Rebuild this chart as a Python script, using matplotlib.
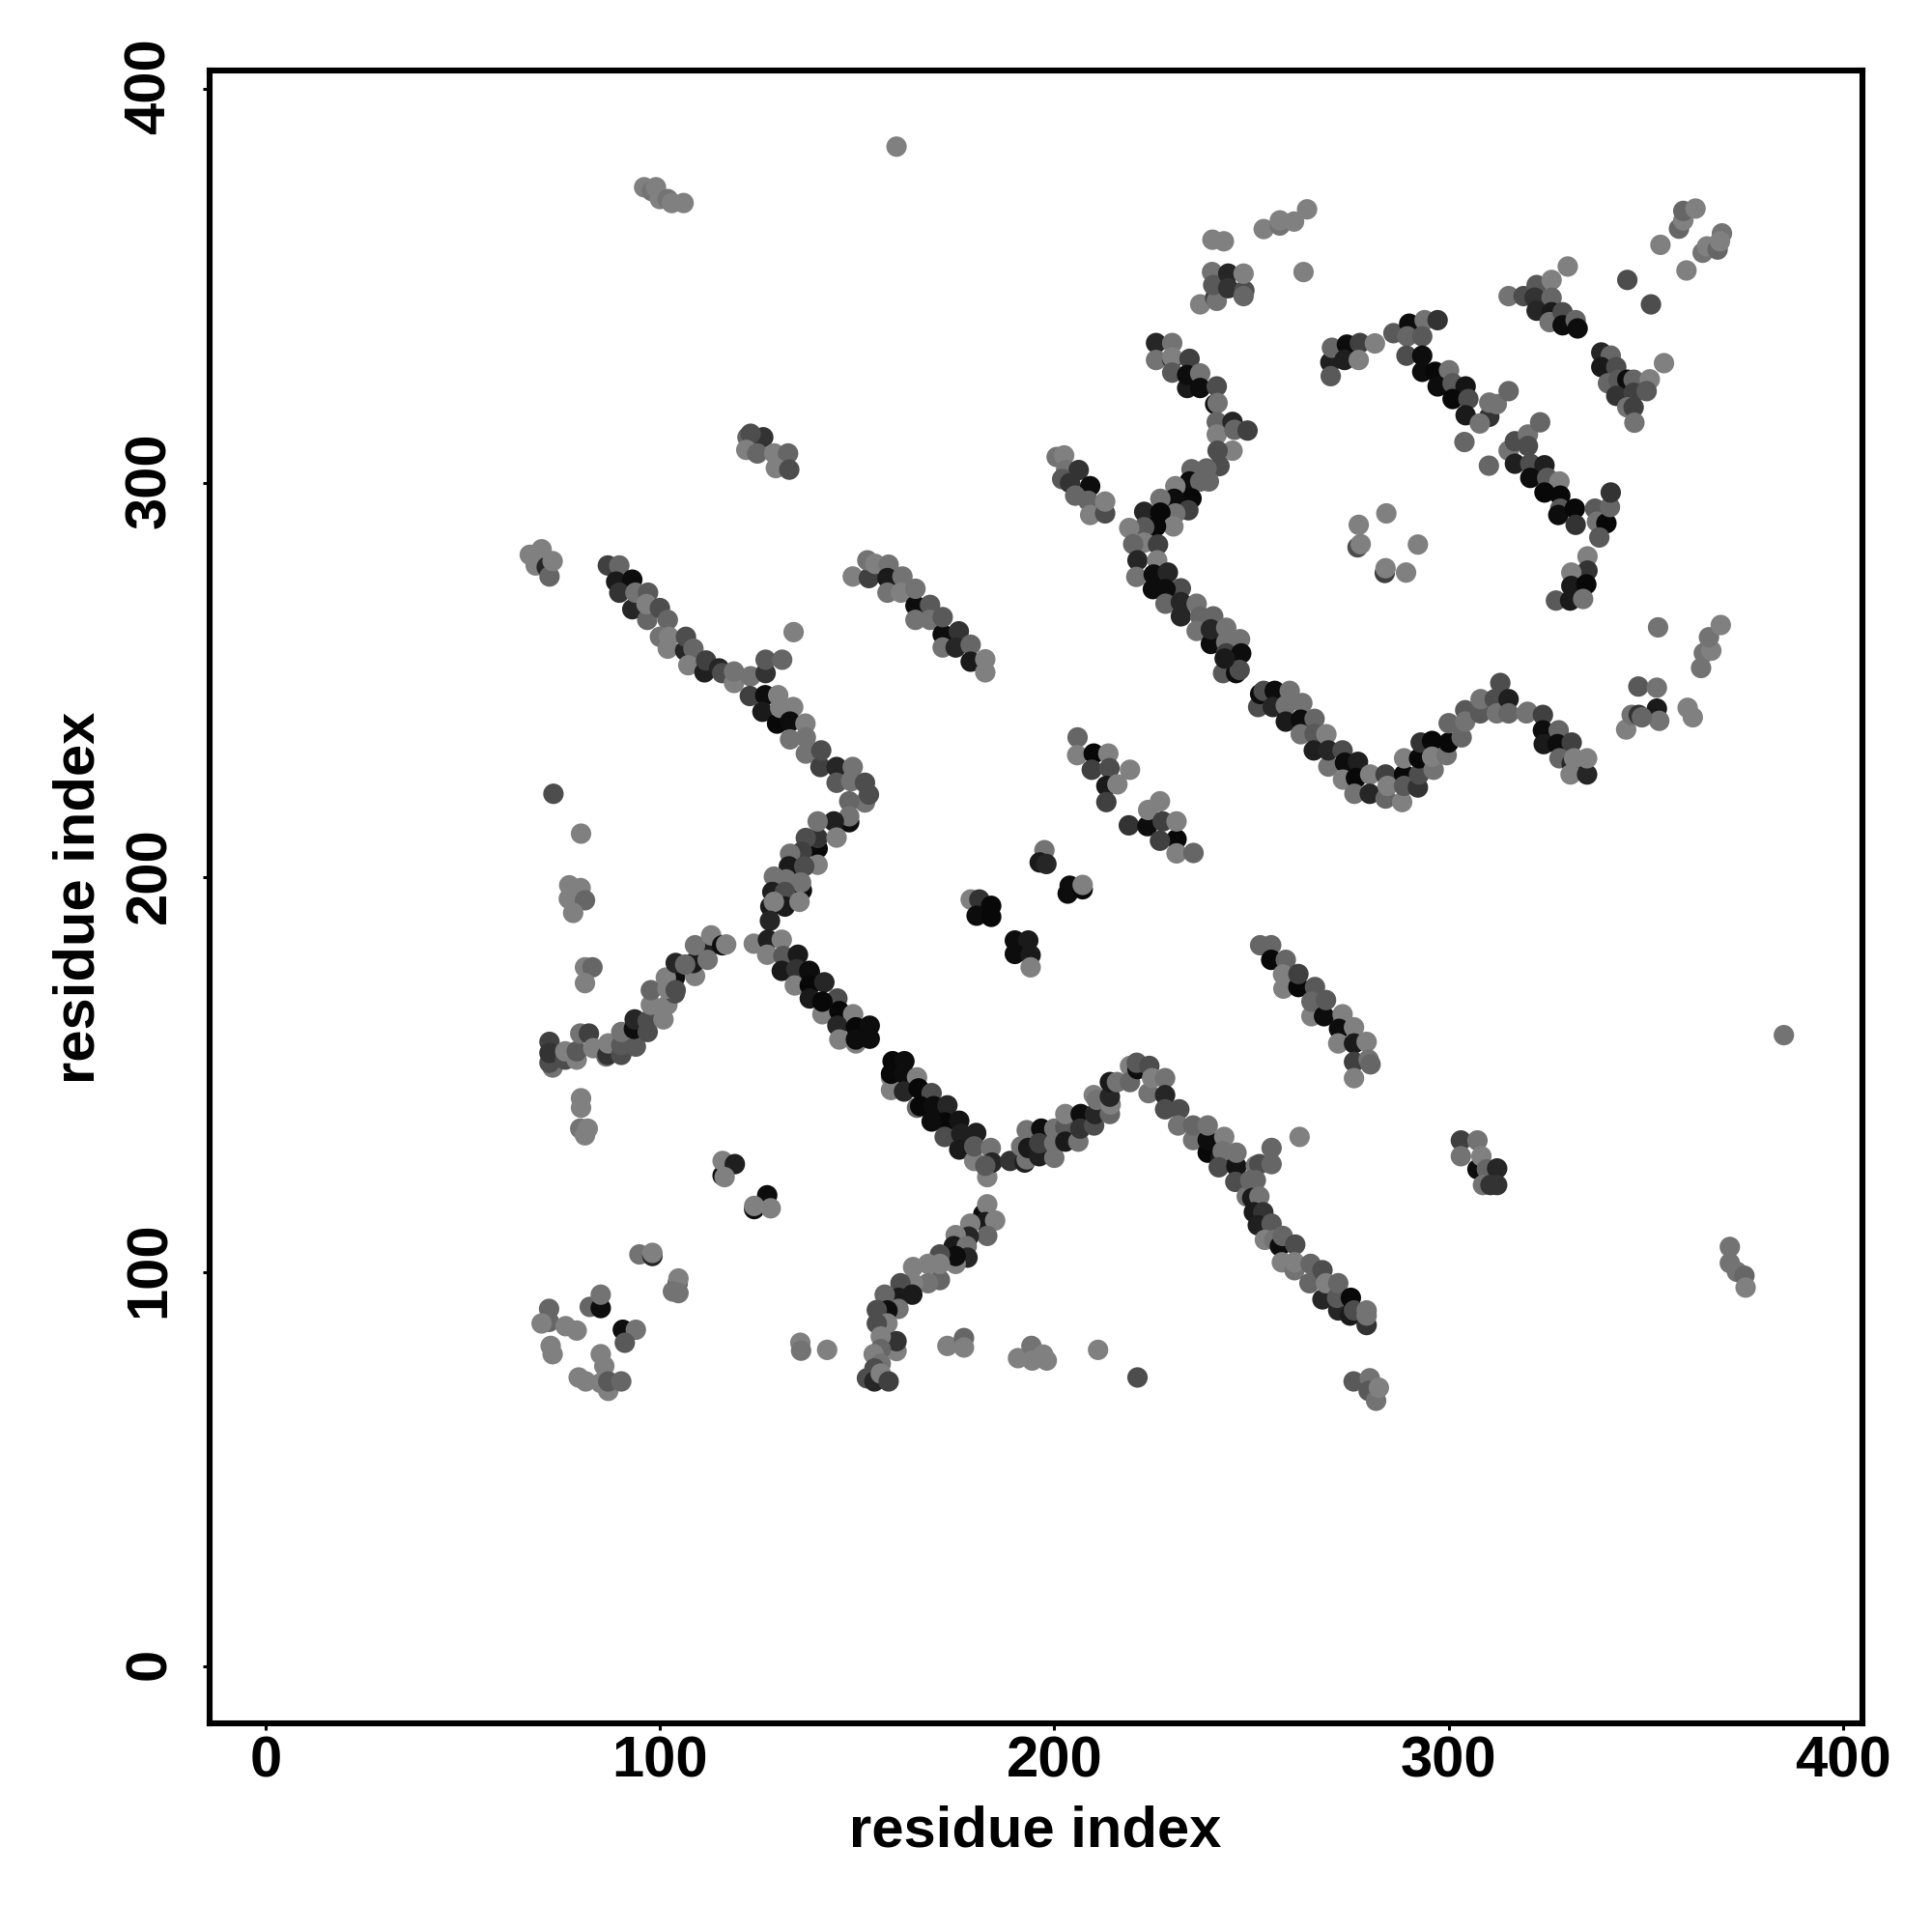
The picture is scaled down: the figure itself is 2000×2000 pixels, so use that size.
import matplotlib
matplotlib.use("Agg")
import matplotlib.pyplot as plt
from matplotlib.transforms import ScaledTranslation

# (residue i, residue j, shade), grouped by feature
isolated = [(160,385.3,.5),(385,160,.45),(133.9,262.2,.5),(73,221.2,.3),(80,211.1,.5),(262.2,134.2,.5),(221.1,73.2,.3),(211.1,80.2,.5),
 (345.3,351.5,.3),(351.3,345.3,.3),(263.2,353.5,.5),(304,310.4,.4),(310.2,304.4,.4),(354.6,330.4,.5),(353.1,263.4,.45)]
top_left = [(96,375,.5),(98,374,.45),(99,375,.5),(100,372,.5),(102,372,.45),(103,371,.5),(106,371,.5),
 (67,281.8,.5),(70,283.2,.5),(68.5,279.1,.5),(71.3,278.7,.15),(72,276.3,.4),(72.8,280.2,.5)]
chain_a = [(86.8,279.1,.25),(89.7,279.1,.4),(88.9,275,.1),(93,275.5,.05),(89.7,272.2,.2),(93,268,.15),(93.8,272.2,.45),(97,272.2,.35),
 (96.8,265.3,.4),(96.6,269.3,.5),(100,268.3,.3),(102,265.3,.4),(100,261,.45),(102.3,261,.5),(102,258,.5),(106.4,257.5,.15),(106.6,261,.3),
 (108.5,258,.4),(107.2,253.8,.5),(111.3,252,.12),(111.7,255,.25),(115,253,.15),(115.8,251.8,.3),(118.8,249.3,.5),(118.8,252.2,.45),
 (123,251,.45),(122.8,246,.25),(126.8,251.8,.2),(126.8,255.2,.35),(131,255.2,.4),(126.7,246.2,.05),(130,246.2,.5),(126,242,.1),
 (129.7,239,.03),(130.5,243,.5),(133.8,243.2,.5),(133,239.5,.05),(136.9,239,.5),(133,235,.45),(137,235.5,.45),(137,231.4,.45),
 (140.7,228,.25),(140.9,232.2,.3),(144.8,228,.15),(144.8,224,.35),(148.9,228,.45),(148.5,224.4,.45),(152,224,.3),(152,219,.45),(153,221,.3),(148,219.3,.4)]
chain_b = [(148,214,.05),(148,215.5,.45),(144.1,214.2,.12),(140,207.3,.03),(140,210,.2),(140,214.2,.45),(144.8,210.1,.5),(137,210,.3),
 (136,206.5,.25),(133,206,.45),(140,203.2,.5),(132.7,202.8,.1),(136.6,202.8,.3),(128.9,200.2,.45),(132,199.5,.45),(136,196.7,.05),
 (135.8,198.7,.45),(128.5,196.3,.12),(131.7,196.3,.3),(128,192.6,.1),(131.7,192.6,.1),(135.4,193.8,.5),(128.9,193.8,.5),(127.9,189,.15)]
chain_c = [(123.8,183.2,.5),(127.4,184.2,.12),(130.9,184.2,.5),(127.2,180.4,.5),(131.3,180.1,.35),(135,180.4,.1),(130.9,176.3,.1),
 (134.6,176.7,.2),(137.9,176.3,.03),(134.2,172.6,.5),(138,175.9,.05),(138,172.6,.03),(141.7,173.4,.15),(138,169.3,.1),(145,169.3,.3),
 (141.2,165.3,.5),(141.2,168.5,.03),(145.5,166.1,.03),(149,165.3,.5),(145,162.4,.15),(145.5,158.9,.5),(149.7,157.9,.5),(149.7,162,.03),
 (153.2,162.4,.05),(153.2,159.1,.05),(149.7,158.9,.05),(158.6,146.1,.5),(158.6,149.3,.5),(159,153.4,.03),(162,153.4,.05),(158.6,150.2,.03),
 (161.9,150.2,.05),(165.2,149.3,.5),(161.9,145.7,.15),(165.6,146.5,.03),(168.9,145.3,.3),(165.2,141.6,.4),(166,142,.03),(169.4,142,.05),
 (172.9,142.2,.15),(172.2,137.9,.03),(168.9,138.1,.05),(175.9,138.3,.08),(172.2,134.2,.3),(176.4,135,.12),(180.2,135.2,.12),(175.9,131,.1),
 (179.7,128.1,.5),(179.7,131.8,.35),(183.9,131.4,.45),(183,124,.5),(184.2,127.7,.15),(182.5,126.9,.35)]
chain_d = [(182,114.6,.05),(183,117.1,.5),(182.5,112.6,.1),(185,113,.5),(183,109.1,.4),(178.7,112.2,.5),(178.3,108.9,.15),(175,109.3,.5),
 (174.5,106.5,.1),(177.8,106.5,.45),(178,103.6,.15),(175,102,.5),(175,104,.05),(171,104.4,.3),(171,97.9,.4),(171,102,.5),(168,102,.5),
 (168,97.1,.45),(164.2,101.2,.5),(164.2,97.1,.5),(161,97.1,.3),(164,94.2,.1),(160.5,93.4,.1),(157,94.2,.4),(160.5,90.6,.45),
 (157.7,90.2,.05),(155,90.3,.3),(157.7,86.9,.5),(155,86.9,.3),(160,79.9,.5),(160,82.4,.2),(156,83.6,.5),(156,80.4,.4),(154.2,79.1,.5),
 (156,76.7,.45),(154.4,75.5,.3),(152.5,73,.3),(154.4,72.2,.15),(156,74.2,.5),(158,72.2,.25)]
chain_e = [(72,158.3,.25),(72.8,151.8,.45),(72,153,.3),(72,155.5,.2),(76,153.8,.3),(76,155.9,.5),(78.9,153.8,.5),(78.9,155.9,.35),
 (79.8,160.4,.45),(82,160.4,.25),(83.1,156.7,.5),(86.4,154.6,.45),(86.7,155,.2),(86.9,157.9,.5),(90.2,155,.3),(90.2,157.5,.35),(90.2,160.8,.45),
 (93.9,157.1,.35),(93.4,161.6,.05),(93.6,164,.15),(96.9,160.8,.3),(96.9,163.6,.3),(100.9,164,.5),(97.7,167.7,.5),(97.7,171.4,.4),
 (101.9,167.7,.5),(103.8,170.6,.3),(101.9,171.8,.5),(103.8,174.6,.05),(101.5,174.6,.5),(104,171.4,.3),(104,178.3,.15),(108.9,175,.5),
 (108.5,178.3,.1),(106.4,177.9,.4),(112.1,182,.12),(112.1,179.1,.45),(108.9,182.8,.45),(113,185.3,.5),(115.8,182.8,.05),(116.8,183,.5)]
left_column = [(77,198,.5),(79.9,197.3,.5),(76.9,194.6,.5),(81,194.2,.4),(78,191,.5),(81,177.2,.5),(82.9,177.2,.4),(81,173.2,.5),
 (80,144,.5),(80,141.6,.5),(79.8,136.3,.45),(81.7,136.3,.5),(81,134.6,.5)]
near_parallel = [(148.9,276.3,.5),(153,275.9,.25),(152.6,280.4,.45),(154.6,279.5,.5),(158,279.3,.45),(157.7,275.9,.1),(157.7,272.2,.45),
 (161.5,276.3,.45),(161.1,272.2,.5),(164.8,268.9,.05),(164.8,273.2,.45),(164.8,265.3,.45),(168.5,269.1,.35),(168.5,265.3,.45),(171.7,261.6,.05),
 (171.7,266,.35),(171.7,258.3,.45),(175.8,262.4,.2),(175,258.3,.15),(178.8,259,.4),(178.8,254.7,.1),(182.5,252,.5),(182.5,255.3,.5)]
center_a = [(205.9,235.5,.4),(205.8,231,.5),(210,231.4,.03),(213.7,231.4,.5),(209.5,227.3,.25),(214,227.7,.3),(219.2,227.3,.5),(213.2,223.2,.1),
 (216,223.6,.5),(213.2,219.1,.25),(218.9,213.2,.2),(223.6,213,.05),(223.8,217.1,.5),(226.8,219.3,.5),(227.5,214.2,.25),(231,209.7,.03),
 (231,214.2,.5),(226.8,209.3,.25),(231,206.1,.5),(235.3,206.2,.4)]
center_b = [(197.5,206.9,.45),(196.3,203.8,.1),(198,203.4,.15),(203.9,197.9,.05),(203.4,195.9,.05),(207.2,197,.03),(207.2,198.1,.5),
 (178.8,194.4,.5),(181,194.4,.2),(180.3,190.3,.05),(184,192.8,.03),(184,190,.03),(190,184,.05),(193.4,184,.1),(190,180.6,.05),(194,180.3,.1),(194,177.2,.5)]
right_parallel = [(252.2,182.8,.4),(255,182.8,.4),(255,179.1,.03),(258.7,179.1,.4),(258,175.4,.5),(258.1,171.8,.5),(261.9,172.2,.03),
 (261.9,175.5,.25),(266.1,172.2,.35),(265.2,164.8,.5),(265.2,168.5,.4),(268.4,164.8,.05),(268.9,168.9,.35),(273.1,165.3,.5),(272.2,161.6,.05),
 (276,162,.5),(272,157.9,.5),(276,157.9,.1),(279.2,158.3,.5),(276,153.2,.25),(279.7,153.8,.45),(280.2,152.6,.4),(276,149.1,.5)]
corner_cluster = [(303.1,133.3,.25),(307.3,133.3,.45),(303.1,129.3,.45),(307.3,126,.05),(308.3,129.3,.5),(309.7,126,.4),(312.3,126.2,.15),
 (308.7,122,.45),(310.6,122,.2),(312.3,122,.2)]
peak_chain = [(188.8,128.1,.2),(192.5,127.7,.12),(191.6,131.8,.45),(193,128.5,.45),(193,135.9,.45),(193.4,131.4,.1),(196.2,129.3,.12),
 (196.7,136.3,.05),(196.2,132.6,.25),(200,136.3,.45),(200,132.6,.45),(200,128.9,.45),(202.8,136.7,.35),(202.8,133,.1),(206.1,133,.45),
 (202.8,140,.5),(206.7,140,.05),(206.6,136.3,.2),(210.1,137.1,.3),(210.3,140,.15),(210,144.8,.5),(210.8,143.6,.45),(214.1,140,.4),
 (214.3,142.4,.5),(214.1,144.4,.15),(214.1,148.1,.1),(215.9,148.1,.45),(219.2,152.2,.5),(219.2,148.1,.4),(221.1,151.4,.05),(220.9,153,.35),
 (224.1,152.2,.3),(223.9,145.3,.45),(224.8,149.1,.5),(228.1,149.1,.45),(228.1,144.8,.15),(228.1,141.2,.3),(231.7,141.2,.3),(231.4,137.1,.45),
 (235.2,133.4,.45),(235.2,137.1,.4),(238.9,130.2,.03),(238.9,133.4,.05),(238.9,137.1,.45),(243.1,134.2,.5),(242.2,128.9,.1),(242.7,130.6,.45),
 (241.7,126.5,.3),(246.2,126.7,.08),(246.2,130.2,.45),(245.9,122.8,.3),(251.1,126.9,.45),(252,127.3,.3),(255.1,131.4,.4),(255.1,127.3,.4),
 (248.8,119.1,.45),(249.7,123.2,.4),(251.1,123.2,.4),(250.2,118.7,.1),(252,119.1,.45),(250.6,115.1,.1),(253,115.1,.2),(251.6,111.8,.12),
 (255.1,112.2,.35),(253.4,108.1,.5),(255.8,108.1,.45),(257.2,106.5,.05),(257.9,109.1,.4),(261.1,106.9,.3),(257.7,102.4,.5),(260.9,100.4,.45),
 (260.9,102.4,.5),(264.7,97.1,.4),(265,102,.4),(268,93,.15),(268,100.4,.3),(268.9,97.1,.5),(272,90.2,.15),(271.7,93.4,.35),(272,97.1,.4),
 (275,88.9,.1),(275.2,93.4,.03),(276,90.2,.3),(279.2,86.5,.2),(279.2,88.9,.45),(279.2,90.2,.45)]
bottom_groups = [(190.8,78.1,.5),(194.2,81.2,.45),(194.4,77.5,.5),(197.2,79,.5),(198.1,77.5,.5),(275.9,72.2,.35),(280,73,.45),(279.7,69.8,.35),
 (281.6,67.3,.45),(282.3,70.6,.5),(135.6,82,.5),(135.8,80,.45),(142.4,80.2,.5),(172.9,81.2,.5),(177.1,83.2,.4),(177.1,80.8,.5)]
lower_left = [(115.9,124.4,.05),(115.9,128.1,.5),(119,127.3,.12),(116.4,124,.5),(127.2,119.4,.05),(123.9,115.9,.05),(123.9,116.7,.5),(128.1,116.1,.5),
 (94.8,104.4,.45),(98.1,104,.15),(98.1,104.8,.5),(104.5,97.1,.35),(104.7,98.3,.5),(103.3,95,.45),(104.7,94.6,.45),(82.2,91.1,.4),(85,90.8,.05),
 (85,94.2,.45),(90.6,85.3,.05),(93.9,85.3,.45),(91.1,82,.35),(71.9,90.6,.4),(71.9,87.3,.4),(70,86.9,.5),(76.1,86.2,.5),(78.9,85.1,.5),
 (72.3,81.2,.5),(72.8,79.1,.5),(85,79.1,.5),(85.9,76.1,.5),(79.4,73.2,.5),(81.2,72.2,.5),(86.9,69.8,.5),(85,71.8,.5),(86.9,72.2,.35),(90.2,72.2,.4)]
branch_up = [(225.8,335.5,.15),(229.9,335.5,.45),(225.8,331.2,.45),(229.9,331.5,.1),(229.9,331.9,.5),(234.3,331.5,.25),(229.9,328,.35),
 (233.7,324.1,.1),(233.7,327.4,.05),(237,327.8,.45),(237,324.1,.05),(241.2,324.5,.3),(240.8,320,.05),(241.4,320.3,.45),(241.2,315.5,.4),
 (245.2,315.5,.15),(241.2,312.3,.5),(245.7,313.5,.4),(249,313.3,.25),(245.2,308.2,.5),(241.4,308.2,.3),(241.9,304.3,.3),(238.6,303.7,.4),
 (234.8,303.5,.4),(234.3,300.4,.05),(239.2,300.4,.4),(237,300.4,.4),(230.7,299.2,.5),(234.8,296.1,.03),(230.4,296,.05),(226.9,296,.45),
 (234,293.1,.25),(230.7,292.3,.45),(222.8,292.7,.15),(226.9,292.5,.03),(230.2,289,.5),(225.8,289,.03),(222.8,288.8,.35),(219,288.6,.5),
 (222.8,284.9,.5),(226.3,284.4,.25),(220,284.5,.4),(221.1,280.4,.15),(226.1,280.4,.5),(220.8,276.2,.45)]
branch_down = [(225.2,276.8,.05),(228.8,277.3,.15),(225,273.1,.05),(232.1,273.3,.3),(228.2,273.1,.05),(228.2,269.4,.4),(232.1,269.8,.15),
 (232.1,266.2,.15),(236.1,269.4,.45),(237,266.2,.4),(240.3,266.2,.4),(236.1,262.5,.45),(239.7,259.2,.05),(239.7,262.9,.15),(243.6,263.3,.45),
 (243.6,259.6,.45),(247.1,260.4,.45),(243.6,256.8,.25),(247.4,256.8,.05),(242.8,251.8,.35),(246.1,251.8,.05),(247,252.6,.3),(243.2,255.5,.1)]
chain_f = [(251.7,243.2,.3),(252.2,246.5,.05),(253.1,247.3,.3),(255.9,247.3,.05),(255.4,243.2,.15),(259.7,247.3,.45),(258.7,243.6,.45),(262.9,244.2,.45),
 (258.7,239.5,.1),(262.5,240,.05),(266,240.2,.4),(262.5,236.3,.45),(266,236.4,.35),(269,236.3,.5),(265.8,232.2,.12),(269.5,228.1,.45),(269.5,232.2,.15),
 (273.1,232.2,.3),(273.7,229.1,.05),(277,229.3,.12),(273.2,224.8,.5),(276.5,225.2,.03),(280.1,226.1,.5),(276.1,221.2,.45),(280,221.2,.15),
 (284,226.1,.25),(284,220,.4),(284.5,223.2,.5),(288.2,219.1,.5),(288.7,226.1,.03),(288.7,223.2,.35),(288.7,230.2,.5),(292.2,222.8,.2),(292.5,226.1,.3),
 (292.5,230.2,.03),(292.9,234.2,.2),(296.2,227.3,.45),(295.8,234.6,.03),(295.8,230.6,.5),(299.5,231,.45),(300,234.2,.03),(303.3,235.5,.4),
 (300,239.1,.4),(304.2,242.4,.35),(304.2,239.5,.45),(308,241.6,.35),(308.1,245.2,.45),(311.7,245.2,.3),(312.2,241.6,.45),(313.1,249.3,.3),
 (315.2,245.2,.12),(315.2,241.6,.4),(319.7,241.6,.45),(320,242,.45),(323.9,241.2,.25),(323.9,237.3,.05),(327.9,237.3,.4),(324.1,233.8,.1),
 (327.6,233.8,.05),(331.2,234.2,.25),(328.1,230.2,.4),(331.2,228.9,.15),(331.8,230.2,.5),(330.9,226.1,.5),(335.1,226.1,.15),(335.1,230.2,.5)]
far_right = [(345,237.5,.5),(346.4,241.2,.45),(348.2,241.2,.2),(348.1,248.4,.35),(352.8,242.8,.1),(352.8,248.1,.45),(353.4,239.7,.45),(349,240.6,.4),
 (360.6,243,.5),(361.9,240.6,.5),(364,253.1,.45),(364.7,256.9,.45),(366.6,257.5,.5),(366,260.9,.45),(369,264,.5),
 (371.3,106.3,.45),(371.3,102.2,.45),(373.1,100,.45),(375,99,.4),(375.3,96,.5)]
upper_blocks = [(122.2,311.6,.4),(126.2,311.6,.2),(123,312.5,.3),(121.9,308.4,.5),(124.7,307.5,.4),(129,307.5,.5),(132.5,307.5,.4),(129.4,303.8,.5),(132.8,303.4,.3),
 (200.6,306.6,.45),(202.5,307,.5),(203,303.3,.45),(206.2,303.3,.2),(202,301,.35),(204,300,.2),(209.1,299.2,.05),(205.3,296.8,.4),(208.6,295.5,.4),
 (209.1,291.9,.5),(212.9,292.3,.3),(212.9,295.3,.5)]
top_groups = [(240.1,361.7,.5),(243,361.3,.5),(253.1,364.4,.5),(257.2,365.3,.45),(257.2,366.6,.5),(260.8,366.3,.5),(264.1,369.4,.5),
 (237,345.3,.5),(240.8,347,.25),(241.2,346.2,.45),(240,353.5,.45),(240.3,350.2,.35),(244.1,353.1,.15),(244.1,349.4,.2),(248.2,348.8,.3),(248,347.4,.4),(248,353.1,.5)]
arc_top = [(270,330.6,.12),(270.1,327.1,.35),(270.4,334.3,.4),(274.2,335.1,.05),(273.6,331.2,.12),(277.5,335.5,.25),(277.2,331.2,.5),(281.3,335.4,.5),
 (286,338,.35),(290,340.4,.05),(289.5,337.2,.4),(293.9,341.3,.45),(297.2,341.3,.2),(293.3,337.2,.35),(289.3,332.3,.3),(293.3,332.3,.05),
 (293.3,328.2,.05),(296.6,328.2,.03),(300.1,328.6,.45),(297.2,324.5,.05),(301,325.3,.35),(304.3,324.5,.08),(301,321.3,.03),(305,321.3,.3),
 (304.3,317.2,.1),(310.3,316.8,.2),(307.9,315.1,.45),(310.3,320.4,.45),(312.2,320,.45),(315.2,323.3,.4)]
arc_lower = [(315.2,308.2,.45),(316.8,310.6,.3),(320.1,312.3,.45),(323.2,315.4,.4),(316.8,304.9,.12),(320.1,309.4,.3),(320.7,304.9,.3),(324.3,304.5,.12),
 (320.7,301.3,.05),(325,301.3,.35),(328.1,300.4,.5),(324.3,297.6,.03),(328.3,296.8,.03),(328.3,293.5,.35),(327.8,291.9,.05),(332,293.5,.03),(332.2,289.4,.2),
 (337.1,293.5,.35),(337.6,290.2,.45),(340,289.8,.03),(338.2,286.2,.35),(340.9,293.9,.4),(341.1,297.6,.2)]
ring = [(284.2,292.3,.5),(277.2,289.4,.5),(276.9,283.7,.3),(277.7,284.5,.5),(292.2,284.4,.5),(283.8,277.2,.25),(284,278.4,.5),(289.2,277.3,.5),
 (335.2,281.4,.5),(335.2,277.8,.2),(331.1,277.3,.5),(331.1,273.9,.1),(334.9,274.3,.03),(327.2,270.2,.35),(330.8,270.2,.1),(334.1,270.6,.45)]
upper_right = [(315.2,347.4,.45),(319,347.4,.3),(322.3,350.2,.35),(326.1,351.5,.5),(330.2,354.9,.5),(321.8,347,.2),(326.1,347,.4),(322.3,343.7,.15),
 (326.1,343.3,.1),(325.6,340.8,.45),(328.9,343.3,.3),(328.9,340,.05),(332.2,341.3,.4),(332.7,339.2,.05),
 (338.7,333.1,.15),(341.1,332.3,.4),(338.7,329.4,.1),(342.5,329.4,.3),(340.4,325.3,.4),(343.1,326.2,.35),(345.3,326.2,.05),(346.9,326.2,.4),(351,326.3,.5),
 (342.5,322.1,.2),(346.9,322.9,.25),(350.2,323.3,.35),(345.3,319.2,.45),(346.9,319.2,.25),(347.1,315.3,.45),
 (353.7,360.4,.5),(358.4,364.5,.4),(359.5,366.6,.5),(359.5,369,.4),(362.6,369.6,.5),(360.3,353.9,.5),(364.4,358.4,.45),(365.5,360,.5),(368.2,359.2,.4),(369.3,363.3,.45),(368.8,361.3,.5)]

tick_values = [0, 100, 200, 300, 400]
axis_title = "residue index"

features = [isolated, top_left, chain_a, chain_b, chain_c, chain_d, chain_e, left_column, near_parallel, center_a, center_b,
            right_parallel, corner_cluster, peak_chain, bottom_groups, lower_left, branch_up, branch_down, chain_f, far_right,
            upper_blocks, top_groups, arc_top, arc_lower, ring, upper_right]

plt.rcParams['font.family'] = ['Liberation Sans', 'DejaVu Sans']
fig = plt.figure(figsize=(10, 10), dpi=200, facecolor='white')
ax = fig.add_axes([216.5/2000, 1-1784/2000, (1927.5-216.5)/2000, (1784-73)/2000])
for feature in features:
    xs = [p[0] for p in feature]
    ys = [p[1] for p in feature]
    shades = [str(p[2]) for p in feature]
    ax.scatter(xs, ys, s=58, c=shades, linewidths=0, clip_on=True)
ax.set_xlim(-14.3, 404.8)
ax.set_ylim(-14.5, 404.6)
ax.set_xticks(tick_values)
ax.set_yticks(tick_values)
ax.tick_params(axis='x', length=2.6, width=1.1, labelsize=21.5, pad=1.8, color='black')
ax.tick_params(axis='y', length=2.6, width=1.1, labelsize=21.5, pad=9.5, color='black')
up_shift = ScaledTranslation(0, 2.5/200, fig.dpi_scale_trans)
for lab in ax.get_xticklabels():
    lab.set_fontweight('bold')
for lab in ax.get_yticklabels():
    lab.set_fontweight('bold')
    lab.set_rotation(90)
    lab.set_verticalalignment('center')
    lab.set_transform(lab.get_transform() + up_shift)
for sp in ax.spines.values():
    sp.set_linewidth(2.2)
ax.set_xlabel(axis_title, fontsize=21.5, fontweight='bold')
ax.set_ylabel(axis_title, fontsize=21.5, fontweight='bold')
ax.xaxis.set_label_coords(0.4996, -0.0491)
ax.yaxis.set_label_coords(-0.0625, 0.4996)
fig.savefig('out.png', dpi=200)
